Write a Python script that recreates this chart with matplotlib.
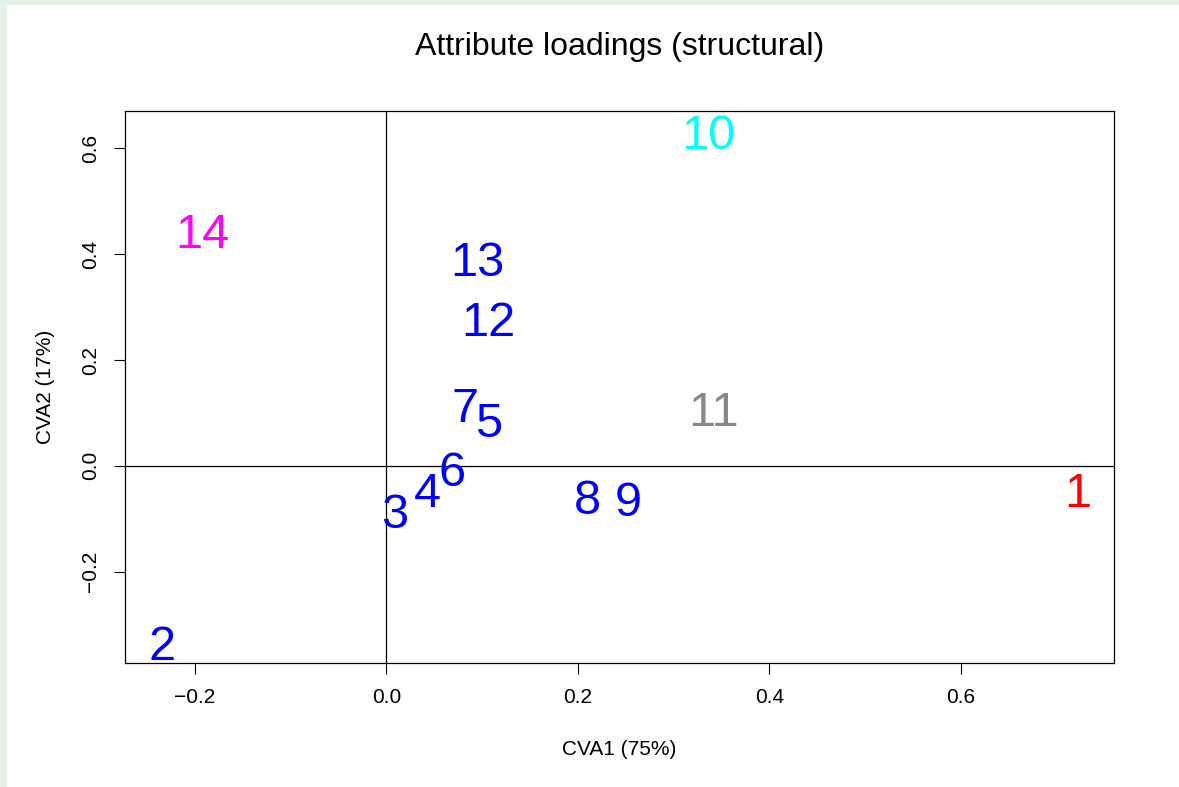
import matplotlib.pyplot as plt
import matplotlib.transforms as mtransforms
from matplotlib.patches import Rectangle

plt.rcParams['font.family'] = ['Liberation Sans', 'DejaVu Sans']

# attribute loadings
labels = ['1', '2', '3', '4', '5', '6', '7', '8', '9', '10', '11', '12', '13', '14']
cva1 = [0.722, -0.235, 0.009, 0.043, 0.107, 0.069, 0.082, 0.210, 0.253,
        0.336, 0.342, 0.106, 0.095, -0.192]
cva2 = [-0.045, -0.334, -0.085, -0.045, 0.087, -0.006, 0.115, -0.058, -0.062,
        0.632, 0.109, 0.279, 0.391, 0.445]
colours = ['#FF0000', '#0000FF', '#0000FF', '#0000FF', '#0000FF', '#0000FF', '#0000FF',
           '#0000FF', '#0000FF', '#00FFFF', '#888888', '#0000FF', '#0000FF', '#FF00FF']
xticks = [-0.2, 0.0, 0.2, 0.4, 0.6]
yticks = [-0.2, 0.0, 0.2, 0.4, 0.6]

W, H = 1179, 787
fig = plt.figure(figsize=(W / 100, H / 100), dpi=100, facecolor='#e4f2e7')
# white page area (light green strip at left and top like the original)
fig.patches.append(Rectangle((7 / W, 0), 1, 1 - 5 / H, transform=fig.transFigure,
                             facecolor='white', edgecolor='none', zorder=-10))

ax = fig.add_axes([125 / W, 1 - 663 / H, (1114 - 125) / W, (663 - 111) / H])
ax.set_facecolor('white')

lab_size = 35
# put glyph centre on the point (R-style vertical centring)
shift = mtransforms.offset_copy(ax.transData, fig=fig, x=0, y=-0.358 * lab_size, units='points')
for lab, x, y, c in zip(labels, cva1, cva2, colours):
    ax.text(x, y, lab, color=c, fontsize=lab_size, ha='center', va='baseline',
            transform=shift)

ax.axhline(0, color='black', lw=0.9)
ax.axvline(0, color='black', lw=0.9)

xr = max(cva1) - min(cva1)
yr = max(cva2) - min(cva2)
ax.set_xlim(min(cva1) - 0.04 * xr, max(cva1) + 0.04 * xr)
ax.set_ylim(min(cva2) - 0.04 * yr, max(cva2) + 0.04 * yr)

ax.set_xticks(xticks)
ax.set_xticklabels(['\u22120.2', '0.0', '0.2', '0.4', '0.6'])
ax.set_yticks(yticks)
ax.set_yticklabels(['\u22120.2', '0.0', '0.2', '0.4', '0.6'], rotation=90, va='center')
ax.tick_params(labelsize=15, length=8, width=0.8, pad=10, color='black')
for s in ax.spines.values():
    s.set_linewidth(0.9)

ax.set_xlabel('CVA1 (75%)', fontsize=15, labelpad=24)
ax.set_ylabel('CVA2 (17%)', fontsize=15, labelpad=19)
ax.set_title('Attribute loadings (structural)', fontsize=23, pad=40)

fig.savefig('out.png', dpi=100, facecolor=fig.get_facecolor())
